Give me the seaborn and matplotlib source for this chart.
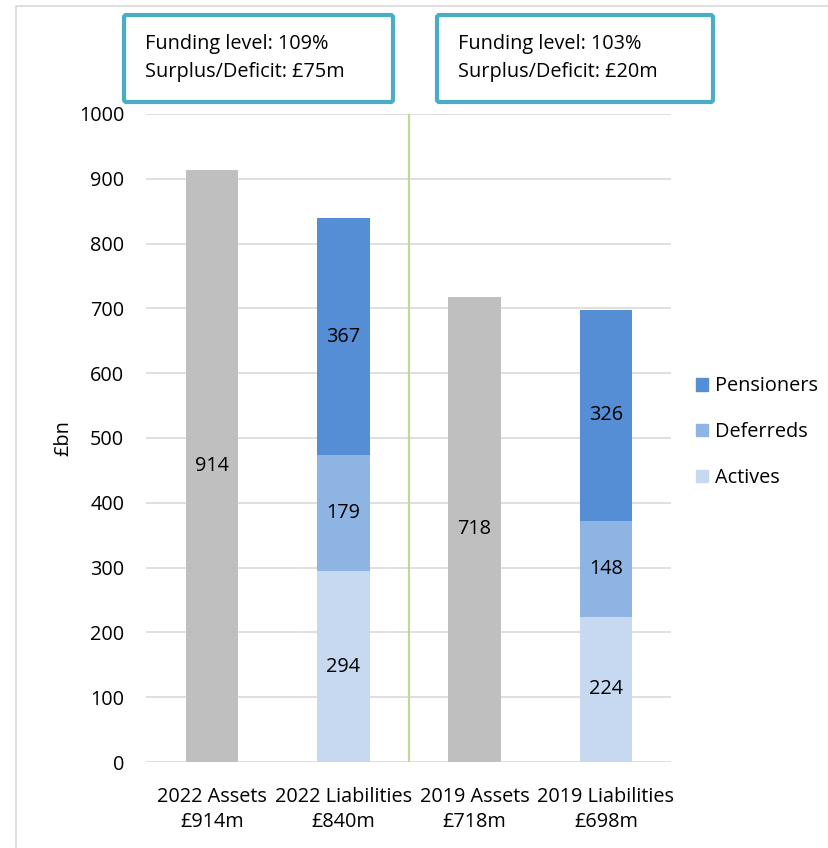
"""
Pension scheme funding: assets vs liabilities, 2022 and 2019 valuations.
"""

import pandas as pd
import matplotlib.pyplot as plt
import matplotlib.patches as mpatches
import seaborn as sns

# Data
categories = ['2022 Assets\n£914m', '2022 Liabilities\n£840m',
              '2019 Assets\n£718m', '2019 Liabilities\n£698m']
assets = [914, None, 718, None]
actives = [None, 294, None, 224]
deferreds = [None, 179, None, 148]
pensioners = [None, 367, None, 326]
box_texts = ['Funding level: 109%\nSurplus/Deficit: £75m',
             'Funding level: 103%\nSurplus/Deficit: £20m']

COLORS = {
    'Assets': '#BFBFBF',
    'Pensioners': '#558ED5',
    'Deferreds': '#8EB4E3',
    'Actives': '#C6D9F1',
}
FS = 14.3

def main():
    sns.set_theme(style='white')
    plt.rcParams['font.family'] = ['Open Sans', 'DejaVu Sans']
    plt.rcParams['text.color'] = 'black'

    fig = plt.figure(figsize=(8.29, 8.48), dpi=100)
    ax = fig.add_axes([0.1767, 0.1014, 0.6333, 0.7642])

    # Build cumulative tops so stacked segments can be overdrawn top-down
    df = pd.DataFrame({'cat': categories, 'Assets': assets, 'Actives': actives,
                       'Deferreds': deferreds, 'Pensioners': pensioners})
    df['top_act'] = df['Actives']
    df['top_def'] = df['Actives'] + df['Deferreds']
    df['top_pen'] = df['top_def'] + df['Pensioners']

    layers = [('Assets', 'Assets'), ('top_pen', 'Pensioners'),
              ('top_def', 'Deferreds'), ('top_act', 'Actives')]
    for col, name in layers:
        sub = df.dropna(subset=[col])
        sns.barplot(data=sub, x='cat', y=col, order=categories, color=COLORS[name],
                    width=0.4, saturation=1, linewidth=0, ax=ax, zorder=3)

    # Segment labels
    for i, row in df.iterrows():
        if pd.notna(row['Assets']):
            ax.text(i, row['Assets'] / 2, f"{row['Assets']:.0f}", ha='center', va='center',
                    fontsize=FS, zorder=5)
        else:
            base = 0
            for name in ['Actives', 'Deferreds', 'Pensioners']:
                v = row[name]
                ax.text(i, base + v / 2, f"{v:.0f}", ha='center', va='center',
                        fontsize=FS, zorder=5)
                base += v

    ax.axvline(1.5, color='#C4D79B', lw=1.6, zorder=4)

    ax.set_ylim(0, 1000)
    ax.set_xlim(-0.5, 3.5)
    ax.set_yticks(range(0, 1001, 100))
    ax.grid(axis='y', color='#D9D9D9', lw=1.2, zorder=0)
    ax.set_axisbelow(True)
    for s in ax.spines.values():
        s.set_visible(False)
    ax.tick_params(axis='y', length=0, pad=16, labelsize=FS, labelcolor='black')
    ax.tick_params(axis='x', length=0, pad=18, labelsize=FS, labelcolor='black')
    for lbl in ax.get_xticklabels():
        lbl.set_linespacing(1.3)
    ax.set_xlabel('')
    ax.set_ylabel('£bn', fontsize=FS, color='black', labelpad=4)

    # Legend
    handles = [mpatches.Patch(color=COLORS[n], label=n)
               for n in ['Pensioners', 'Deferreds', 'Actives']]
    fig.legend(handles=handles, loc='center left', bbox_to_anchor=(0.818, 0.4905),
               frameon=False, fontsize=FS, handlelength=0.6, handleheight=0.6,
               handletextpad=0.35, labelspacing=1.3)

    # Outer chart border
    fig.patches.append(mpatches.Rectangle((16 / 829, -0.1), 1.2, 1 - 6 / 848 + 0.1,
                                          transform=fig.transFigure, fill=False,
                                          edgecolor='#D9D9D9', lw=1.2))

    # Annotation boxes
    for (x0, x1), txt in zip([(124, 393), (437, 713)], box_texts):
        fig.patches.append(mpatches.FancyBboxPatch(
            (x0 / 829, 1 - 102 / 848), (x1 - x0) / 829, 87 / 848,
            boxstyle='round,pad=0,rounding_size=0.003', transform=fig.transFigure,
            facecolor='white', edgecolor='#4BACC6', lw=3))
        fig.text((x0 + 21) / 829, 1 - 58 / 848, txt, ha='left', va='center',
                 fontsize=FS, linespacing=1.6)

    fig.savefig('out.png', dpi=100)
    plt.close(fig)

if __name__ == "__main__":
    main()
